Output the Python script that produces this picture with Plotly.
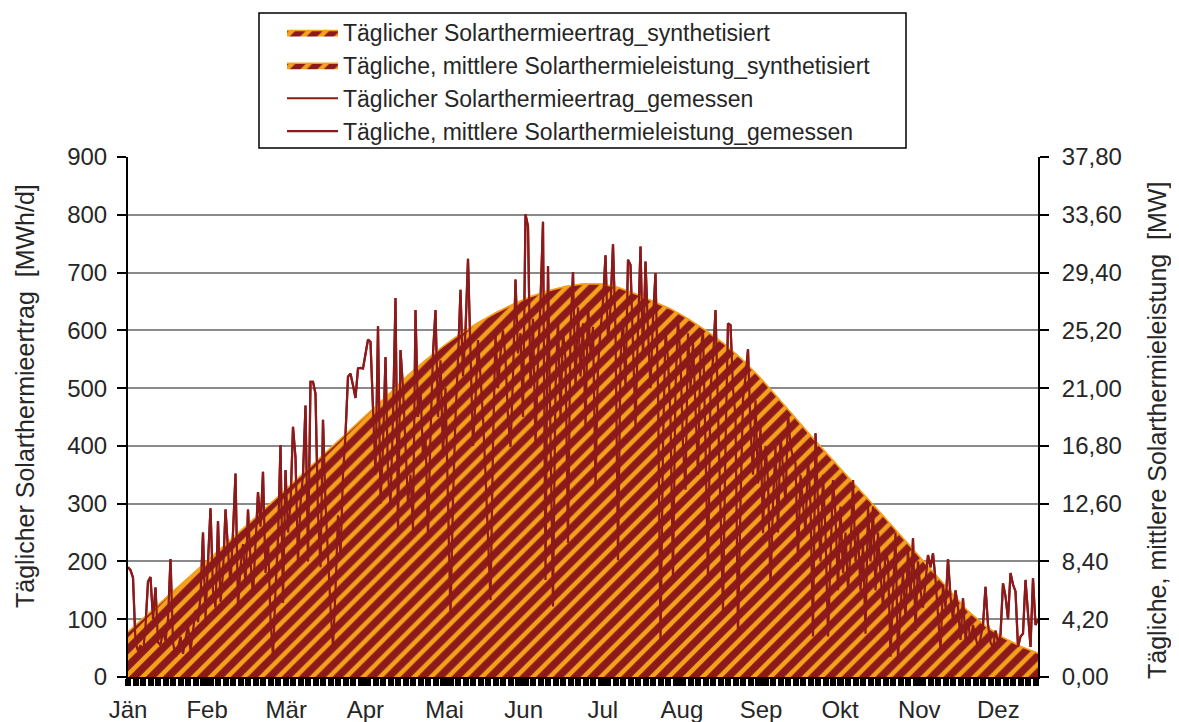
import plotly.graph_objects as go

# ---------------- data ----------------
months = ["Jän", "Feb", "Mär", "Apr", "Mai", "Jun", "Jul", "Aug", "Sep", "Okt", "Nov", "Dez"]

# synthetic daily yield (MWh/d), sampled every 7 days
synth_days = list(range(0, 365, 7))
synth_vals = [78, 105, 132, 159, 187, 214, 241, 268, 296, 324, 352, 380, 408, 436, 464, 492,
              522, 548, 572, 594, 613, 630, 645, 658, 668, 676, 680, 680, 674, 663, 650, 637,
              620, 600, 578, 552, 522, 488, 453, 418, 384, 350, 317, 284, 250, 216, 182, 148,
              114, 88, 68, 53, 41]

# measured daily yield (MWh/d), one value per day
meas_jan = [190, 185, 172, 60, 45, 55, 40, 88, 165, 173, 100, 155, 60, 55, 80, 62, 100, 204, 60, 35,
            50, 70, 40, 62, 90, 45, 80, 115, 95, 140, 250]
meas_feb = [100, 200, 292, 150, 120, 270, 130, 180, 290, 220, 160, 250, 352, 120, 190, 230, 160, 290,
            200, 140, 230, 320, 260, 355, 180, 240, 100, 35]
meas_mar = [150, 240, 401, 128, 358, 250, 300, 433, 380, 197, 300, 350, 470, 200, 511, 511, 490, 280,
            190, 445, 300, 200, 120, 52, 150, 280, 208, 350, 420, 520, 525]
meas_apr = [505, 483, 534, 535, 534, 560, 584, 580, 450, 350, 607, 300, 400, 554, 350, 300, 450, 656,
            254, 566, 500, 400, 300, 350, 254, 635, 450, 500, 380, 420]
meas_mai = [243, 420, 560, 635, 450, 548, 380, 500, 300, 104, 306, 450, 550, 670, 520, 600, 724, 560,
            400, 480, 583, 520, 450, 350, 250, 133, 400, 595, 500, 560, 600]
meas_jun = [550, 450, 398, 520, 688, 560, 595, 450, 801, 780, 500, 620, 400, 550, 650, 788, 168, 711,
            450, 122, 500, 620, 450, 600, 550, 232, 600, 701, 500, 640]
meas_jul = [520, 612, 433, 647, 560, 606, 329, 537, 600, 650, 730, 580, 640, 749, 600, 202, 550, 620,
            500, 722, 713, 560, 433, 600, 745, 550, 719, 600, 500, 620, 699]
meas_aug = [500, 58, 400, 600, 550, 450, 168, 500, 620, 550, 400, 324, 595, 500, 580, 450, 350, 560,
            600, 400, 168, 500, 550, 635, 450, 300, 116, 400, 612, 609, 500]
meas_sep = [450, 70, 300, 480, 520, 567, 433, 350, 479, 335, 433, 249, 400, 341, 156, 300, 398, 250,
            420, 350, 300, 456, 400, 380, 370, 200, 350, 300, 250, 380]
meas_okt = [300, 70, 422, 300, 200, 350, 250, 70, 200, 341, 280, 150, 295, 180, 250, 150, 220, 341,
            200, 249, 150, 230, 75, 295, 200, 295, 150, 250, 180, 120, 220]
meas_nov = [200, 35, 150, 250, 29, 120, 180, 100, 220, 140, 240, 80, 200, 150, 120, 160, 211, 190,
            214, 168, 100, 47, 160, 120, 204, 139, 99, 150, 120, 64]
meas_dez = [136, 64, 100, 60, 90, 70, 50, 67, 90, 156, 90, 60, 50, 80, 60, 73, 162, 140, 100, 180,
            160, 148, 52, 70, 75, 168, 100, 52, 171, 90, 100]

measured = (meas_jan + meas_feb + meas_mar + meas_apr + meas_mai + meas_jun +
            meas_jul + meas_aug + meas_sep + meas_okt + meas_nov + meas_dez)
days = list(range(len(measured)))

MW_PER_MWHD = 37.8 / 900.0   # right axis scale as shown on the chart

left_title = "Täglicher Solarthermieertrag \u00a0[MWh/d]"
right_title = "Tägliche, mittlere Solarthermieleistung \u00a0[MW]"

# ---------------- styling ----------------
DARK = "#8c1a1a"
ORANGE = "#f5a11c"
TXT = "#262626"
FONT = "Liberation Sans, Arial, sans-serif"

pattern = dict(shape="/", fgcolor=DARK, bgcolor=ORANGE, size=12, solidity=0.62, fillmode="replace")

fig = go.Figure()
fig.add_trace(go.Scatter(x=synth_days, y=synth_vals, mode="lines", fill="tozeroy",
                         fillpattern=pattern, line=dict(color=ORANGE, width=1.5),
                         name="Täglicher Solarthermieertrag_synthetisiert",
                         legendgroup="a", yaxis="y"))
fig.add_trace(go.Scatter(x=synth_days, y=[v * MW_PER_MWHD for v in synth_vals], mode="lines",
                         fill="tozeroy", fillpattern=pattern, line=dict(color=ORANGE, width=1.5),
                         name="Tägliche, mittlere Solarthermieleistung_synthetisiert",
                         legendgroup="b", yaxis="y2"))
fig.add_trace(go.Scatter(x=days, y=measured, mode="lines", line=dict(color=DARK, width=2.2),
                         name="Täglicher Solarthermieertrag_gemessen", legendgroup="c", yaxis="y"))
fig.add_trace(go.Scatter(x=days, y=[v * MW_PER_MWHD for v in measured], mode="lines",
                         line=dict(color=DARK, width=2.2),
                         name="Tägliche, mittlere Solarthermieleistung_gemessen",
                         legendgroup="d", yaxis="y2"))

label_step = 31.65
tickvals = [i * label_step for i in range(len(months))]

# the page body has an 8px margin, so the figure is drawn 8px smaller and offset
OFF = 8
L, R, T, B = 128 - OFF, 141, 157 - OFF, 45
W, H = 1179 - OFF, 722 - OFF
pw, ph = W - L - R, H - T - B

def px_x(p):
    return (p - OFF - L) / pw

def px_y(p):
    return (H - B - (p - OFF)) / ph

fig.update_layout(
    width=W, height=H,
    margin=dict(l=L, r=R, t=T, b=B, autoexpand=False),
    paper_bgcolor="white", plot_bgcolor="white",
    font=dict(family=FONT, color=TXT, size=24),
    separators=",.",
    showlegend=True,
    legend=dict(x=px_x(282), y=px_y(11), xanchor="left", yanchor="top",
                font=dict(family=FONT, size=23, color=TXT),
                bgcolor="rgba(0,0,0,0)", borderwidth=0,
                traceorder="grouped", tracegroupgap=0, itemwidth=51),
    xaxis=dict(range=[0, 364], tickmode="array", tickvals=tickvals, ticktext=months,
               ticks="outside", ticklen=7, tickwidth=6, tickcolor="black", automargin=False,
               showline=True, linecolor="black", linewidth=2, showgrid=False, zeroline=False,
               tickfont=dict(size=24, color=TXT), ticklabelstandoff=3,
               minor=dict(tickmode="linear", tick0=0, dtick=3, ticks="outside", ticklen=7,
                          tickwidth=6, tickcolor="black", showgrid=False)),
    yaxis=dict(range=[0, 900], tickmode="linear", tick0=0, dtick=100, automargin=False,
               showgrid=True, gridcolor="#8a8a8a", gridwidth=1.5, zeroline=False,
               ticks="outside", ticklen=9, tickwidth=1.5, tickcolor="black",
               showline=True, linecolor="black", linewidth=2,
               tickfont=dict(size=24, color=TXT), ticklabelstandoff=5),
    yaxis2=dict(range=[0, 37.8], tickmode="linear", tick0=0, dtick=4.2, tickformat=".2f",
                overlaying="y", side="right", showgrid=False, zeroline=False, automargin=False,
                ticks="outside", ticklen=9, tickwidth=1.5, tickcolor="black",
                showline=True, linecolor="black", linewidth=2,
                tickfont=dict(size=24, color=TXT), ticklabelstandoff=8),
    annotations=[
        dict(text=left_title, xref="paper", yref="paper", x=px_x(25), y=px_y(396),
             xanchor="center", yanchor="middle", textangle=-90, showarrow=False,
             font=dict(family=FONT, size=25, color=TXT)),
        dict(text=right_title, xref="paper", yref="paper", x=px_x(1157), y=px_y(431),
             xanchor="center", yanchor="middle", textangle=-90, showarrow=False,
             font=dict(family=FONT, size=25, color=TXT)),
    ],
    shapes=[dict(type="rect", xref="paper", yref="paper",
                 x0=px_x(259), x1=px_x(906), y0=px_y(148), y1=px_y(13),
                 line=dict(color="black", width=1.5), fillcolor="rgba(0,0,0,0)")],
)

fig.write_html("out.html")
